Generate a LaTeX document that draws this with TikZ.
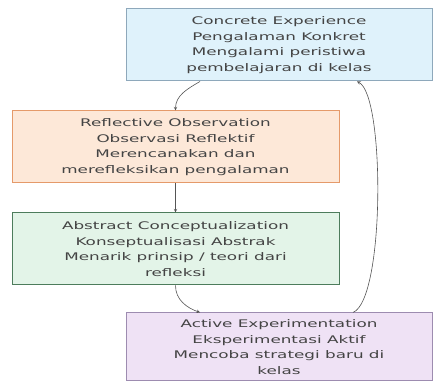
\documentclass[tikz,border=0pt]{standalone}
\usepackage{fontspec}
\setmainfont{DejaVu Sans}[FakeStretch=1.6]
\usepackage{xcolor}
\usepackage{tikz}
\usetikzlibrary{arrows,positioning}

\definecolor{cefill}{HTML}{DFF2FB}
\definecolor{celine}{HTML}{8EA8BB}
\definecolor{rofill}{HTML}{FDE8D8}
\definecolor{roline}{HTML}{E59A6A}
\definecolor{acfill}{HTML}{E3F4E8}
\definecolor{acline}{HTML}{4D7C5C}
\definecolor{aefill}{HTML}{EFE2F5}
\definecolor{aeline}{HTML}{9D8CB0}
\definecolor{txtgray}{HTML}{444444}
\definecolor{flowgray}{HTML}{555555}

\tikzset{
  stagebox/.style={draw, line width=1pt, align=center, inner sep=0pt,
    text=txtgray, font=\fontsize{10.5}{15.5}\selectfont},
  flow/.style={-stealth, draw=flowgray, line width=0.6pt}
}

\begin{document}
\begin{tikzpicture}[x=1pt, y=1pt]
\useasboundingbox[fill=white] (0,0) rectangle (437,387);
\node[stagebox, fill=cefill, draw=celine, minimum width=306pt, minimum height=72pt] (ce) at (279,342)
  {Concrete Experience\\Pengalaman Konkret\\Mengalami peristiwa\\pembelajaran di kelas};
\node[stagebox, fill=rofill, draw=roline, minimum width=327pt, minimum height=72pt] (ro) at (175.5,240)
  {Reflective Observation\\Observasi Reflektif\\Merencanakan dan\\merefleksikan pengalaman};
\node[stagebox, fill=acfill, draw=acline, minimum width=327pt, minimum height=72pt] (ac) at (175.5,138)
  {Abstract Conceptualization\\Konseptualisasi Abstrak\\Menarik prinsip / teori dari\\refleksi};
\node[stagebox, fill=aefill, draw=aeline, minimum width=306pt, minimum height=68pt] (ae) at (279,40)
  {Active Experimentation\\Eksperimentasi Aktif\\Mencoba strategi baru di\\kelas};
\draw[flow] ([xshift=-79pt]ce.south) to[out=-150, in=90] (ro.north);
\draw[flow] (ro.south) -- (ac.north);
\draw[flow] (ac.south) to[out=-90, in=160] ([xshift=-79pt]ae.north);
\draw[flow] ([xshift=74pt]ae.north) .. controls +(32,13) and +(28,-14) .. ([xshift=78pt]ce.south);
\end{tikzpicture}
\end{document}
